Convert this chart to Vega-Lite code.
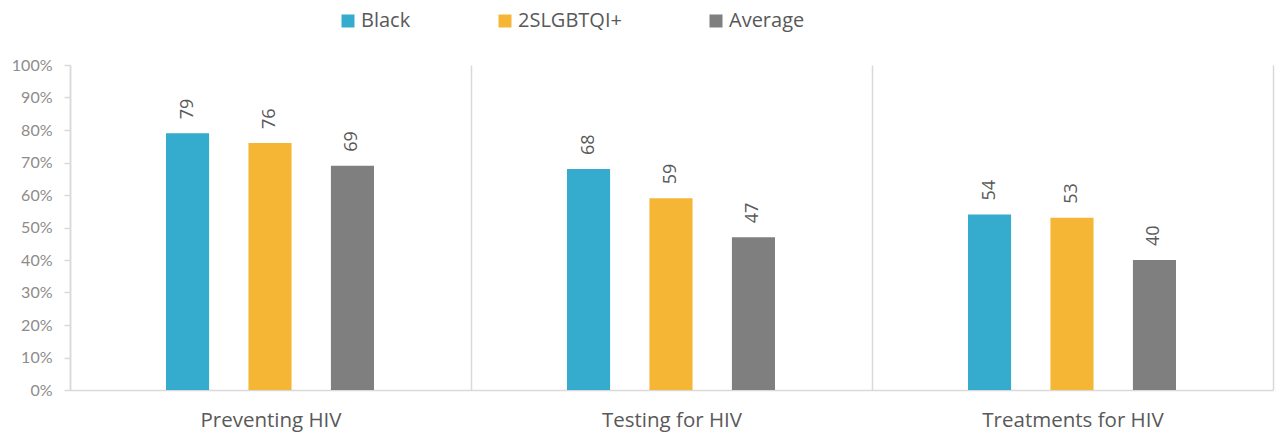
{
  "$schema": "https://vega.github.io/schema/vega-lite/v6.json",
  "width": 1203,
  "height": 325,
  "autosize": {"type": "none"},
  "padding": {"left": 70, "top": 65, "right": 4, "bottom": 44},
  "background": "white",
  "config": {"view": {"stroke": null}, "font": "Open Sans"},
  "data": {
    "values": [
      {"category": "Preventing HIV", "group": "Black", "value": 79},
      {"category": "Preventing HIV", "group": "2SLGBTQI+", "value": 76},
      {"category": "Preventing HIV", "group": "Average", "value": 69},
      {"category": "Testing for HIV", "group": "Black", "value": 68},
      {"category": "Testing for HIV", "group": "2SLGBTQI+", "value": 59},
      {"category": "Testing for HIV", "group": "Average", "value": 47},
      {"category": "Treatments for HIV", "group": "Black", "value": 54},
      {"category": "Treatments for HIV", "group": "2SLGBTQI+", "value": 53},
      {"category": "Treatments for HIV", "group": "Average", "value": 40}
    ]
  },
  "encoding": {
    "x": {
      "field": "category",
      "type": "nominal",
      "sort": ["Preventing HIV", "Testing for HIV", "Treatments for HIV"],
      "scale": {"paddingInner": 0, "paddingOuter": 0},
      "axis": {
        "title": null,
        "labelAngle": 0,
        "labelLimit": 400,
        "tickBand": "extent",
        "grid": true,
        "gridColor": "#d9d9d9",
        "gridWidth": 1.5,
        "ticks": false,
        "domainColor": "#d9d9d9",
        "domainWidth": 1.5,
        "labelFontSize": 20.5,
        "labelColor": "#595959",
        "labelPadding": 20
      }
    },
    "xOffset": {
      "field": "group",
      "type": "nominal",
      "sort": ["Black", "2SLGBTQI+", "Average"],
      "scale": {"range": [96, 304], "paddingInner": 0.4775, "paddingOuter": 0}
    },
    "y": {
      "field": "value",
      "type": "quantitative",
      "scale": {"domain": [0, 100], "nice": false},
      "axis": {
        "title": null,
        "values": [0, 10, 20, 30, 40, 50, 60, 70, 80, 90, 100],
        "labelExpr": "datum.value + '%'",
        "grid": false,
        "domainColor": "#d9d9d9",
        "domainWidth": 1.5,
        "tickColor": "#d9d9d9",
        "tickWidth": 1.5,
        "tickSize": 6,
        "labelFont": "Lato",
        "labelFontSize": 16,
        "labelColor": "#8c8c8c",
        "labelPadding": 12
      }
    }
  },
  "layer": [
    {
      "mark": {"type": "bar"},
      "encoding": {
        "color": {
          "field": "group",
          "type": "nominal",
          "sort": ["Black", "2SLGBTQI+", "Average"],
          "scale": {"domain": ["Black", "2SLGBTQI+", "Average"], "range": ["#35ABCD", "#F6B635", "#7F7F7F"]},
          "legend": {
            "title": null,
            "orient": "none",
            "direction": "horizontal",
            "legendX": 268,
            "legendY": -54,
            "padding": 0,
            "symbolType": "square",
            "symbolSize": 169,
            "symbolStrokeWidth": 0,
            "symbolOpacity": 1,
            "labelFontSize": 20,
            "labelColor": "#595959",
            "labelOffset": 3,
            "columnPadding": 84
          }
        }
      }
    },
    {
      "mark": {"type": "text", "angle": 270, "align": "left", "baseline": "middle", "dx": 14, "fontSize": 18, "color": "#595959"},
      "encoding": {"text": {"field": "value", "type": "quantitative"}}
    }
  ]
}
